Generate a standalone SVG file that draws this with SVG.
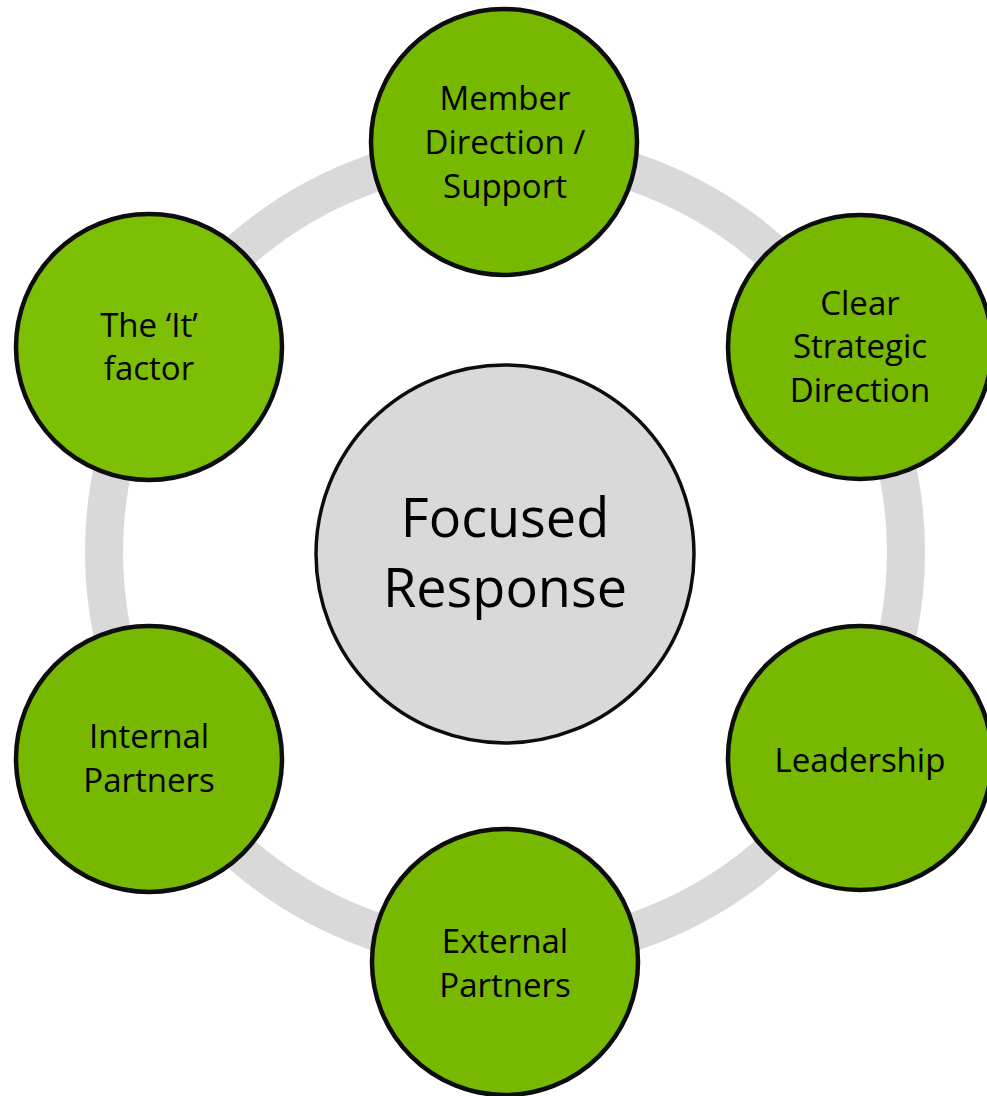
<svg xmlns="http://www.w3.org/2000/svg" width="987" height="1096" viewBox="0 0 987 1096">
<style>
.node{fill:#76b900;stroke:#0d0d0d;stroke-width:4.5}
.lbl{font-family:"Open Sans","Noto Sans",sans-serif;font-size:33px;fill:#000;text-anchor:middle}
.big{font-family:"Open Sans","Noto Sans",sans-serif;font-size:54px;fill:#000;text-anchor:middle}
</style>
<rect width="987" height="1096" fill="#ffffff"/>
<g id="connectors">
<circle cx="505" cy="552" r="401" fill="none" stroke="#d9d9d9" stroke-width="38"/>
</g>
<g id="center">
<circle cx="505" cy="554" r="189" fill="#d9d9d9" stroke="#0d0d0d" stroke-width="3.5"/>
<text class="big" x="505" y="537">Focused</text>
<text class="big" x="505" y="607">Response</text>
</g>
<g id="member">
<circle class="node" cx="504" cy="142" r="133"/>
<text class="lbl" x="505" y="110">Member</text>
<text class="lbl" x="505" y="154">Direction /</text>
<text class="lbl" x="505" y="198">Support</text>
</g>
<g id="strategic">
<circle class="node" cx="860" cy="347" r="132"/>
<text class="lbl" x="860" y="315">Clear</text>
<text class="lbl" x="860" y="358">Strategic</text>
<text class="lbl" x="860" y="402">Direction</text>
</g>
<g id="leadership">
<circle class="node" cx="860" cy="758" r="132"/>
<text class="lbl" x="860" y="772">Leadership</text>
</g>
<g id="external">
<circle class="node" cx="505" cy="962" r="133"/>
<text class="lbl" x="505" y="953">External</text>
<text class="lbl" x="505" y="997">Partners</text>
</g>
<g id="internal">
<circle class="node" cx="149" cy="759" r="133"/>
<text class="lbl" x="149" y="748">Internal</text>
<text class="lbl" x="149" y="792">Partners</text>
</g>
<g id="itfactor">
<circle class="node" cx="149" cy="347" r="133" style="fill:#7dbf05"/>
<text class="lbl" x="149" y="337">The ‘It’</text>
<text class="lbl" x="149" y="380">factor</text>
</g>
</svg>
